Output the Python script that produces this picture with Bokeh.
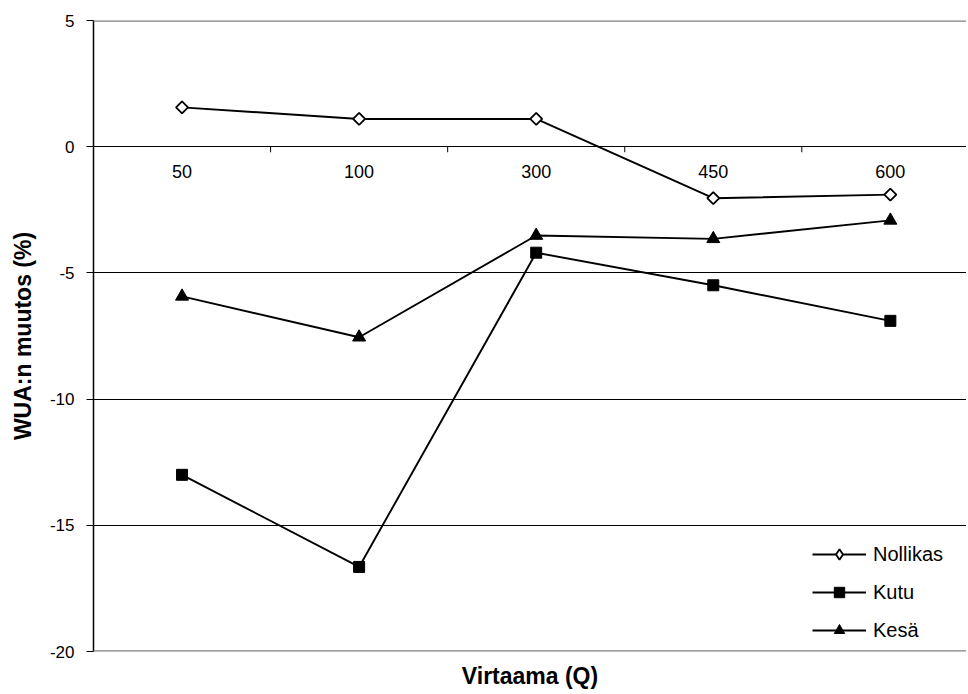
import math
from bokeh.plotting import figure
from bokeh.models import Range1d, FixedTicker, Span, Legend, LegendItem
from bokeh.core.properties import value
from bokeh.embed import file_html
from bokeh.resources import INLINE

categories = ["50", "100", "300", "450", "600"]
nollikas = [1.56, 1.10, 1.10, -2.04, -1.90]
kutu = [-13.0, -16.65, -4.2, -5.49, -6.9]
kesa = [-5.93, -7.55, -3.52, -3.65, -2.92]
y_ticks = [5, 0, -5, -10, -15, -20]

FONT = "Liberation Sans"
LW = 1.9
xs = list(range(1, len(categories) + 1))

p = figure(width=966, height=692, output_backend="svg", toolbar_location=None,
           x_range=Range1d(0.5, 5.43), y_range=Range1d(-20, 5),
           min_border_left=93, min_border_right=0, min_border_top=20,
           min_border_bottom=41)
p.outline_line_color = None
p.background_fill_color = "white"

# grid
p.xgrid.grid_line_color = None
p.ygrid.ticker = FixedTicker(ticks=y_ticks)
p.ygrid.grid_line_color = "black"
p.ygrid.grid_line_width = 1

# y axis
p.yaxis.ticker = FixedTicker(ticks=y_ticks)
p.yaxis.major_label_overrides = {t: str(t) for t in y_ticks}
p.yaxis.axis_line_color = "black"
p.yaxis.axis_line_width = 1.5
p.yaxis.major_tick_out = 7
p.yaxis.major_tick_in = 0
p.yaxis.minor_tick_line_color = None
p.yaxis.major_label_text_font = FONT
p.yaxis.major_label_text_font_size = "17px"
p.yaxis.major_label_text_color = "black"
p.yaxis.major_label_standoff = 12
p.yaxis.axis_label = "WUA:n muutos (%)"
p.yaxis.axis_label_text_font = FONT
p.yaxis.axis_label_text_font_size = "23px"
p.yaxis.axis_label_text_font_style = "bold"
p.yaxis.axis_label_text_color = "black"
p.yaxis.axis_label_standoff = 11

# x axis (title only)
p.xaxis.ticker = FixedTicker(ticks=[])
p.xaxis.major_tick_line_color = None
p.xaxis.minor_tick_line_color = None
p.xaxis.axis_line_color = None
p.xaxis.axis_label = "Virtaama (Q)"
p.xaxis.axis_label_text_font = FONT
p.xaxis.axis_label_text_font_size = "23px"
p.xaxis.axis_label_text_font_style = "bold"
p.xaxis.axis_label_text_color = "black"
p.xaxis.axis_label_standoff = 11

# gray top and bottom border lines
for yv in (y_ticks[0], y_ticks[-1]):
    p.add_layout(Span(location=yv, dimension="width", line_color="#808080",
                      line_width=2.5))

# category labels on the zero line
p.text(x=xs, y=[0] * len(xs), text=categories, text_font=value(FONT),
       text_font_size="18px", text_align="center", text_baseline="middle",
       y_offset=25, text_color="black")

# small ticks between categories on the zero line
mids = [x + 0.5 for x in xs[:-1]]
p.segment(x0=mids, y0=[0] * len(mids), x1=mids, y1=[-0.22] * len(mids),
          line_color="black", line_width=1)

items = []
# Nollikas
l1 = p.line(xs, nollikas, line_color="black", line_width=LW)
s1 = p.scatter(xs, nollikas, marker="square", size=8.5, angle=math.pi / 4,
               fill_color="white", line_color="black", line_width=1.8)
# diamond renderer used only for the legend swatch (size 0 in the plot)
s1_leg = p.scatter(xs, nollikas, marker="diamond", size=0,
                   fill_color="white", line_color="black", line_width=1.8)
items.append(LegendItem(label="Nollikas", renderers=[l1, s1_leg]))
# Kutu
l2 = p.line(xs, kutu, line_color="black", line_width=LW)
s2 = p.scatter(xs, kutu, marker="square", size=11, fill_color="black",
               line_color="black")
items.append(LegendItem(label="Kutu", renderers=[l2, s2]))
# Kesä
l3 = p.line(xs, kesa, line_color="black", line_width=LW)
s3 = p.scatter(xs, kesa, marker="triangle", size=13, fill_color="black",
               line_color="black")
items.append(LegendItem(label="Kesä", renderers=[l3, s3]))

legend = Legend(items=items, location=(719, 8), border_line_color=None,
                background_fill_alpha=0, padding=0, margin=0, spacing=12,
                glyph_width=54, glyph_height=26, label_height=26,
                label_standoff=7, label_text_font=FONT,
                label_text_font_size="20px", label_text_color="black")
p.add_layout(legend, "center")

open("out.html", "w").write(file_html(p, INLINE))
